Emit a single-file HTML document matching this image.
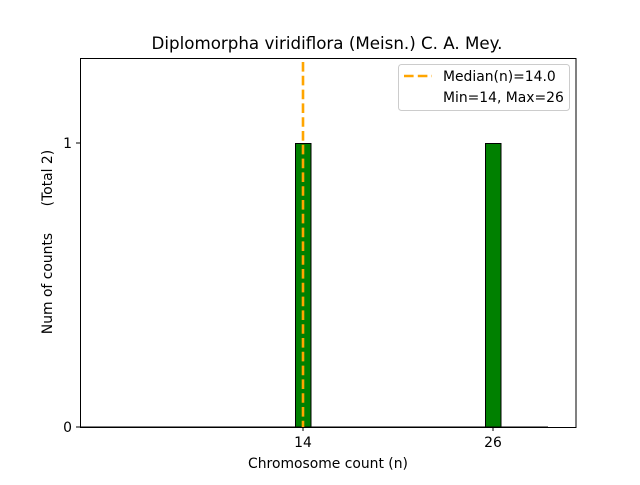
<!DOCTYPE html>
<html><head><style>body{margin:0;background:#fff}</style></head><body>
<svg width="640" height="480" xmlns="http://www.w3.org/2000/svg" font-family="DejaVu Sans, Liberation Sans, sans-serif">
<rect width="640" height="480" fill="#fff"/>
<text x="327" y="49" font-size="16.7" text-anchor="middle">Diplomorpha viridiflora (Meisn.) C. A. Mey.</text>
<line x1="80" y1="427" x2="548" y2="427" stroke="#000" stroke-width="1"/>
<rect x="295.5" y="143.5" width="15.5" height="283.5" fill="green" stroke="#000" stroke-width="1"/>
<rect x="485.5" y="143.5" width="15.5" height="283.5" fill="green" stroke="#000" stroke-width="1"/>
<line x1="303" y1="62" x2="303" y2="427" stroke="orange" stroke-width="2.6" stroke-dasharray="9.6,4.2"/>
<rect x="80.5" y="58.5" width="495.5" height="369" fill="none" stroke="#000" stroke-width="1"/>
<g stroke="#000"><line x1="76" y1="427" x2="80" y2="427"/><line x1="76" y1="143" x2="80" y2="143"/>
<line x1="303" y1="427" x2="303" y2="431"/><line x1="493" y1="427" x2="493" y2="431"/></g>
<g font-size="13.9"><text x="72" y="432" text-anchor="end">0</text><text x="72" y="148" text-anchor="end">1</text>
<text x="303" y="447" text-anchor="middle">14</text><text x="493" y="447" text-anchor="middle">26</text>
<text x="328" y="468" text-anchor="middle">Chromosome count (n)</text>
<text transform="translate(52,242) rotate(-90)" text-anchor="middle" style="white-space:pre" xml:space="preserve">Num of counts      (Total 2)</text></g>
<rect x="398.5" y="64.5" width="171" height="46" rx="3" fill="#fff" stroke="#ccc"/>
<line x1="404" y1="76" x2="432" y2="76" stroke="orange" stroke-width="2.6" stroke-dasharray="9.6,4.2"/>
<g font-size="13.9"><text x="443" y="81">Median(n)=14.0</text><text x="443" y="102">Min=14, Max=26</text></g>
</svg>
</body></html>
